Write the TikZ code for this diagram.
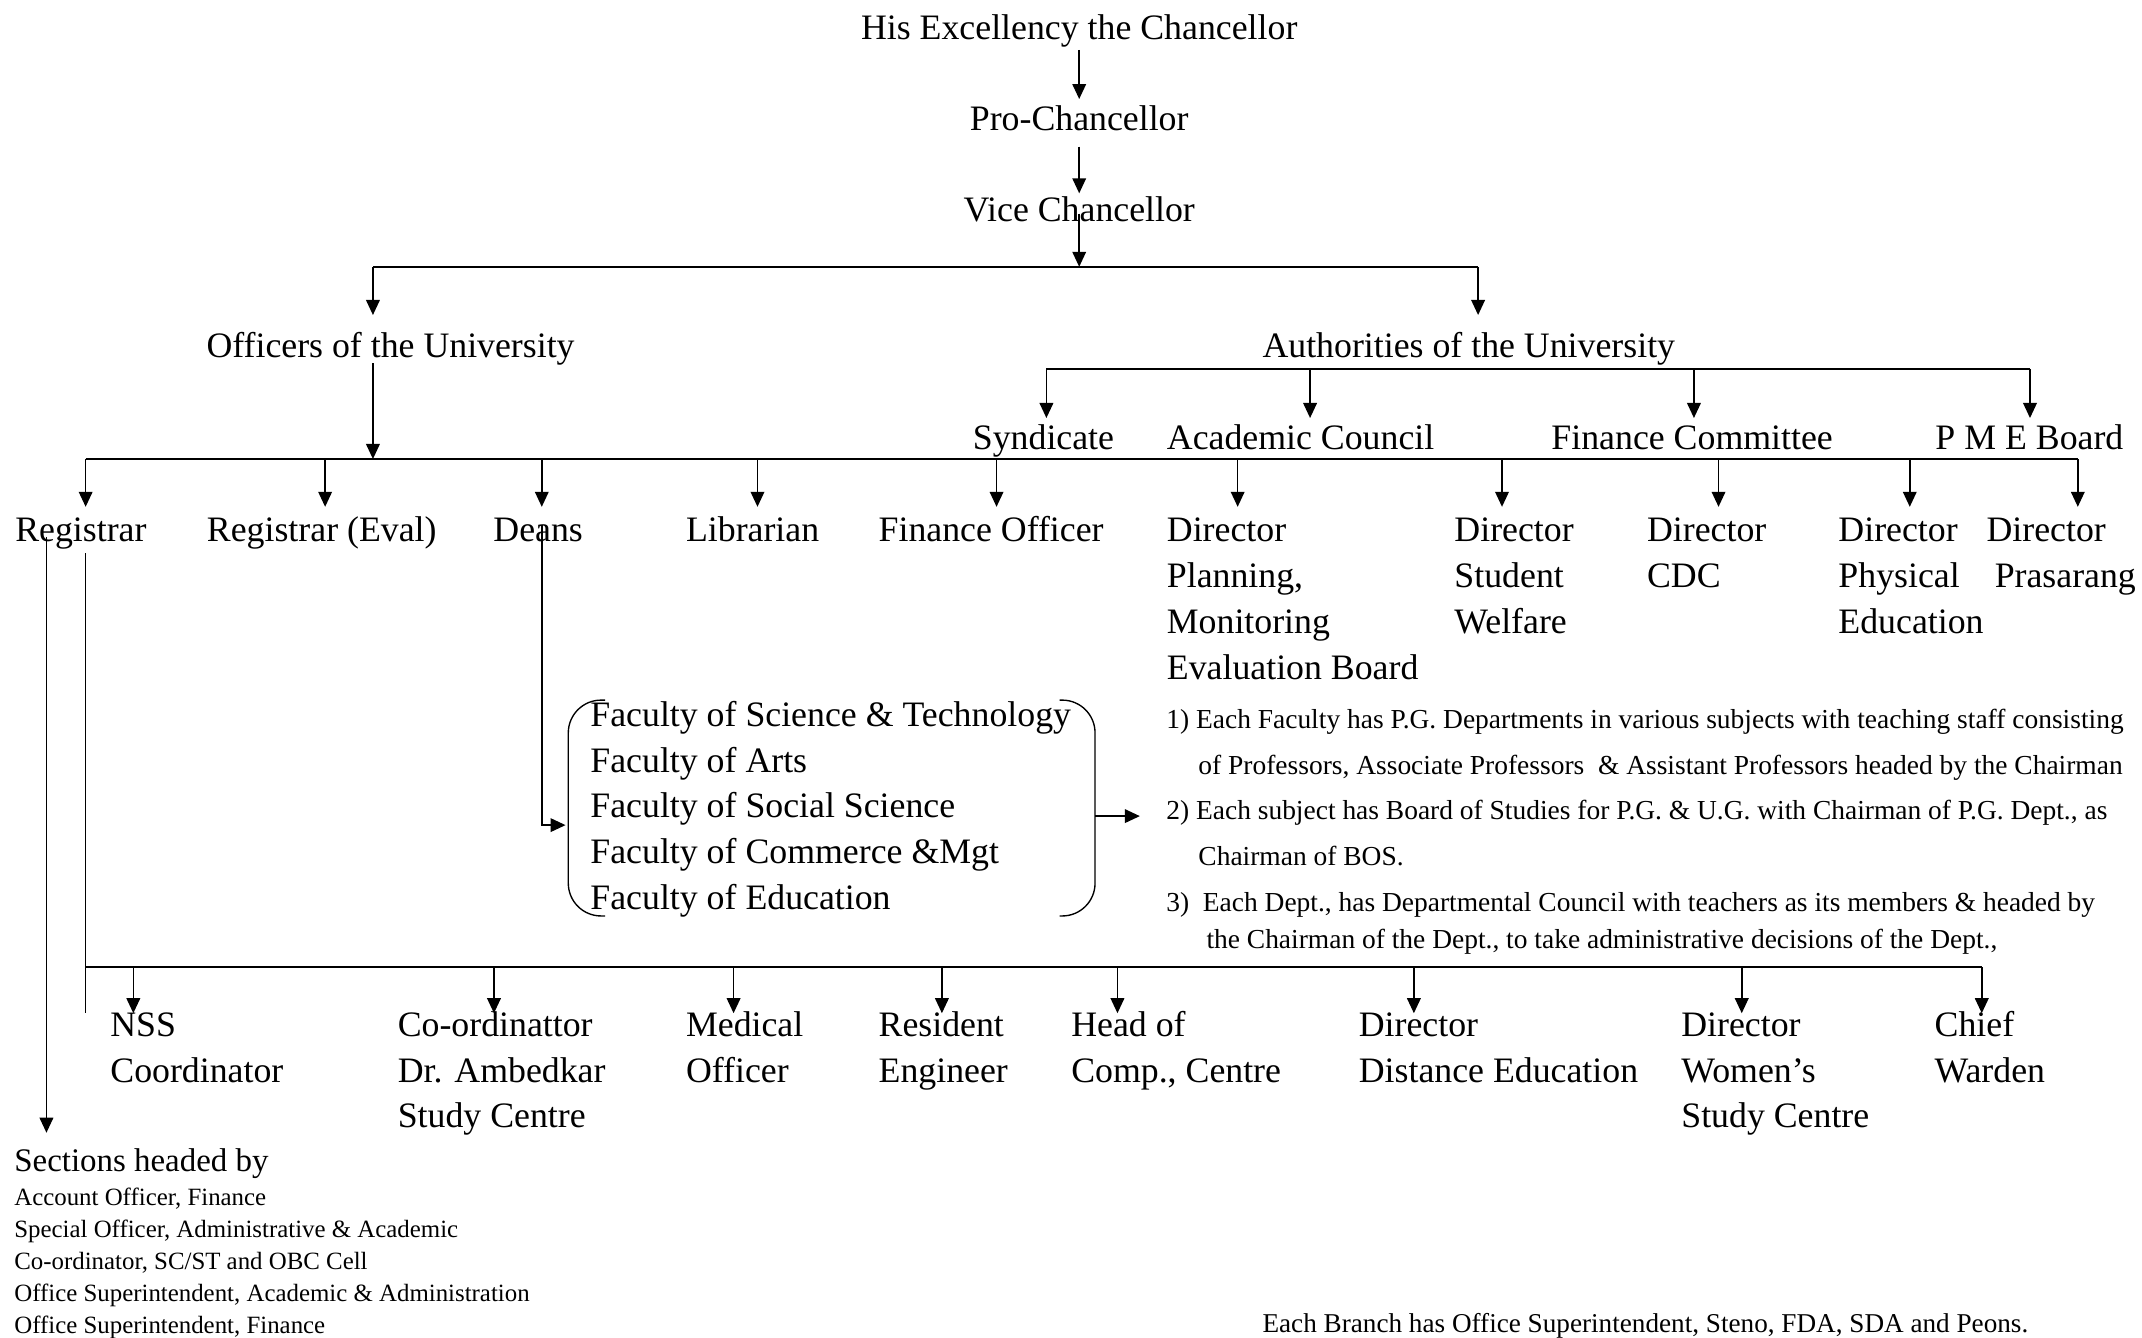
\documentclass[tikz,border=0pt]{standalone}
\usepackage{fontspec}
\setmainfont{Liberation Serif}
\usetikzlibrary{arrows.meta}
\newcommand{\mainfs}{\fontsize{26.2}{33.5}\selectfont}
\newcommand{\notefs}{\fontsize{20.1}{33.4}\selectfont}
\newcommand{\notefsb}{\fontsize{20.1}{27.3}\selectfont}
\newcommand{\listfs}{\fontsize{18.2}{23.4}\selectfont}
\newcommand{\branchfs}{\fontsize{19.9}{24}\selectfont}
\newcommand{\headfs}{\fontsize{24.1}{30}\selectfont}
\newcommand{\bigstrut}{\rule{0pt}{20pt}}
\newcommand{\smallstrut}{\rule{0pt}{16pt}}
\begin{document}
\begin{tikzpicture}[x=1pt,y=-1pt,
  lbl/.style={font=\mainfs, inner sep=0pt, align=left, anchor=base west},
  mlbl/.style={font=\mainfs, inner sep=0pt, align=left, anchor=north west},
  note/.style={font=\notefs, inner sep=0pt, align=left, anchor=north west},
  small/.style={font=\listfs, inner sep=0pt, align=left, anchor=north west},
  conn/.style={line width=1.1pt, -{Triangle[length=11pt,width=10pt]}},
  wire/.style={line width=1.1pt},
  brace/.style={line width=1pt, rounded corners=24pt}]
\useasboundingbox (0,0) rectangle (1568,979);

% top chain
\node[lbl,anchor=base] (chan) at (790,29) {His Excellency the Chancellor};
\node[lbl,anchor=base] (pro) at (790,95.7) {Pro-Chancellor};
\node[lbl,anchor=base] (vc) at (790,162.3) {Vice Chancellor};
\draw[conn, shorten <=7.6pt, shorten >=23.2pt] (chan.base) -- (pro.base);
\draw[conn, shorten <=11.7pt, shorten >=20.8pt] (pro.base) -- (vc.base);
\coordinate (vcbus) at (790,195.3);
\coordinate (vcL) at (273,195.3);
\coordinate (vcR) at (1082,195.3);
\coordinate (t2tip) at (0,230.6);
\draw[conn, shorten <=-6pt] (vc.base) -- (vcbus);
\draw[wire] (vcL) -- (vcR);
\draw[conn] (vcL) -- (vcL |- t2tip);
\draw[conn] (vcR) -- (vcR |- t2tip);

% second tier
\node[lbl] (off) at (151,262) {Officers of the University};
\node[lbl] (auth) at (924,262) {Authorities of the University};

% authorities bus
\coordinate (ab1) at (766,270);
\coordinate (ab2) at (959,270);
\coordinate (ab3) at (1240,270);
\coordinate (ab4) at (1486,270);
\coordinate (abtip) at (0,306);
\draw[wire] (ab1) -- (ab4);
\foreach \c in {ab1,ab2,ab3,ab4} \draw[conn] (\c) -- (\c |- abtip);
\node[lbl] (syn) at (712,329.4) {Syndicate};
\node[lbl] (acad) at (854,329.4) {Academic Council};
\node[lbl] (fincom) at (1135.5,329.4) {Finance Committee};
\node[lbl] (pme) at (1416.6,329.4) {P M E Board};

% officers bus
\coordinate (obIn) at (273,336);
\draw[conn, shorten <=4pt] (obIn |- off.base) -- (obIn);
\coordinate (ob1) at (62.7,336);
\coordinate (ob2) at (238,336);
\coordinate (ob3) at (396.6,336);
\coordinate (ob4) at (554.5,336);
\coordinate (ob5) at (729.5,336);
\coordinate (ob6) at (906,336);
\coordinate (ob7) at (1099.5,336);
\coordinate (ob8) at (1258,336);
\coordinate (ob9) at (1398,336);
\coordinate (ob10) at (1521,336);
\coordinate (t3tip) at (0,371);
\draw[wire] (ob1) -- (ob10);
\foreach \c in {ob1,ob2,ob3,ob4,ob5,ob6,ob7,ob8,ob9,ob10} \draw[conn] (\c) -- (\c |- t3tip);

% row 3 (first baseline at 396.5)
\node[lbl] (reg) at (11,396.5) {Registrar};
\node[lbl] (rege) at (151.3,396.5) {Registrar (Eval)};
\node[lbl] (deans) at (361,396.5) {Deans};
\node[lbl] (lib) at (502,396.5) {Librarian};
\node[lbl] (fo) at (643,396.5) {Finance Officer};
\node[mlbl] (dpm) at (854,376.5) {\bigstrut Director\\Planning,\\Monitoring\\Evaluation Board};
\node[mlbl] (dsw) at (1064.5,376.5) {\bigstrut Director\\Student\\Welfare};
\node[mlbl] (dcdc) at (1205.5,376.5) {\bigstrut Director\\CDC};
\node[mlbl] (dpe) at (1345.6,376.5) {\bigstrut Director\\Physical\\Education};
\node[mlbl] (dpr) at (1454,376.5) {\bigstrut Director\\\hspace*{6pt}Prasarang};

% registrar lines
\coordinate (secTip) at (34,829.2);
\draw[conn, shorten <=-3.5pt] (secTip |- reg.base) -- (secTip);
\coordinate (regEnd) at (62.5,741.5);
\draw[wire, shorten <=8.5pt] (regEnd |- reg.base) -- (regEnd);

% deans -> faculties
\coordinate (deansTurn) at (396.6,604);
\coordinate (facIn) at (414,604);
\draw[conn, shorten <=-12.5pt] (deansTurn |- deans.base) -- (deansTurn) -- (facIn);
\node[mlbl] (fac) at (432,511.5) {\bigstrut Faculty of Science \& Technology\\Faculty of Arts\\Faculty of Social Science\\Faculty of Commerce \&Mgt\\Faculty of Education};
\draw[brace] (443,512.5) -- (416,512.5) -- (416,670.5) -- (443,670.5);
\draw[brace] (775.6,512.5) -- (801.6,512.5) -- (801.6,670.5) -- (775.6,670.5);
\coordinate (facOut) at (801.6,597.4);
\coordinate (noteIn) at (834.4,597.4);
\draw[conn] (facOut) -- (noteIn);

% notes (first baselines 533, 599.6, 666.7)
\node[note] (n1) at (853.6,517) {\smallstrut 1) Each Faculty has P.G. Departments in various subjects with teaching staff consisting\\\hspace*{23.5pt}of Professors, Associate Professors\ \ \& Assistant Professors headed by the Chairman};
\node[note] (n2) at (853.6,583.6) {\smallstrut 2) Each subject has Board of Studies for P.G. \& U.G. with Chairman of P.G. Dept., as\\\hspace*{23.5pt}Chairman of BOS.};
\node[note, font=\notefsb] (n3) at (853.6,650.7) {\smallstrut 3)\ \ Each Dept., has Departmental Council with teachers as its members \& headed by\\\hspace*{29.4pt}the Chairman of the Dept., to take administrative decisions of the Dept.,};

% bottom bus
\coordinate (bb0) at (62.5,708);
\coordinate (bb1) at (97.6,708);
\coordinate (bb2) at (361.6,708);
\coordinate (bb3) at (537,708);
\coordinate (bb4) at (689.5,708);
\coordinate (bb5) at (818,708);
\coordinate (bb6) at (1035,708);
\coordinate (bb7) at (1275,708);
\coordinate (bb8) at (1450.7,708);
\coordinate (bbtip) at (0,741.7);
\draw[wire] (bb0) -- (bb8);
\foreach \c in {bb1,bb2,bb3,bb4,bb5,bb6,bb7,bb8} \draw[conn] (\c) -- (\c |- bbtip);

% bottom row (first baseline 758.4)
\node[mlbl] (nss) at (80.6,738.4) {\bigstrut NSS\\Coordinator};
\node[mlbl] (amb) at (291,738.4) {\bigstrut Co-ordinattor\\Dr. Ambedkar\\Study Centre};
\node[mlbl] (med) at (502,738.4) {\bigstrut Medical\\Officer};
\node[mlbl] (res) at (643,738.4) {\bigstrut Resident\\Engineer};
\node[mlbl] (comp) at (784,738.4) {\bigstrut Head of\\Comp., Centre};
\node[mlbl] (dde) at (994.5,738.4) {\bigstrut Director\\Distance Education};
\node[mlbl] (dws) at (1230.6,738.4) {\bigstrut Director\\Women’s\\Study Centre};
\node[mlbl] (warden) at (1416,738.4) {\bigstrut Chief\\Warden};

% sections
\node[lbl, font=\headfs] (sect) at (10.3,857.7) {Sections headed by};
\node[small] (seclist) at (10.3,866) {\smallstrut Account Officer, Finance\\Special Officer, Administrative \& Academic\\Co-ordinator, SC/ST and OBC Cell\\Office Superintendent, Academic \& Administration\\Office Superintendent, Finance};
\node[lbl, font=\branchfs] (branch) at (924,975.6) {Each Branch has Office Superintendent, Steno, FDA, SDA and Peons.};
\end{tikzpicture}
\end{document}
